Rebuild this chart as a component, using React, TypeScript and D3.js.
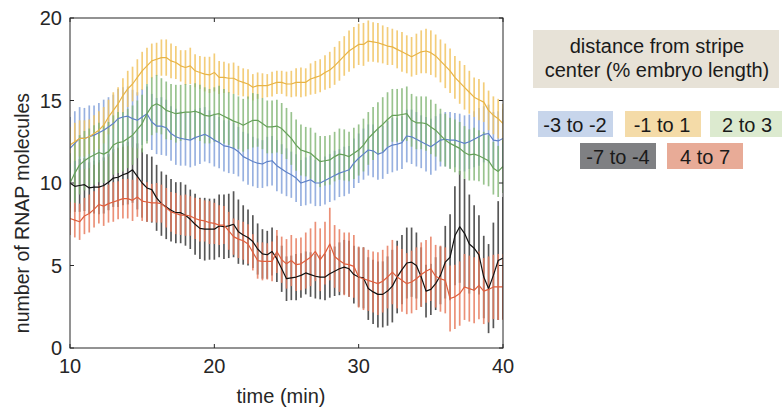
import React from "react";
import * as d3 from "d3";

// time grid: frames every 20 s from 10 to 40 min
const times: number[] = d3.range(91).map((i) => 10 + i / 3);

const seriesNames = ["-3 to -2", "-1 to 1", "2 to 3", "-7 to -4", "4 to 7"];

const meanBlue = [
  12.1, 12.4, 12.7, 12.7, 12.8, 12.9, 13.05, 13.2, 13.4, 13.6, 13.9, 14.0,
  14.05, 13.9, 13.8, 14.0, 14.2, 13.7, 13.45, 13.45, 13.35, 13.0, 12.8, 12.7,
  12.65, 12.6, 12.75, 12.85, 12.95, 12.8, 12.6, 12.45, 12.25, 12.2, 12.1, 11.9,
  11.6, 11.45, 11.3, 11.2, 11.15, 11.3, 11.35, 11.05, 10.85, 10.65, 10.5, 10.3,
  10.0, 10.1, 10.2, 10.0, 10.0, 10.15, 10.3, 10.45, 10.6, 10.7, 10.8, 11.2,
  11.5, 11.75, 12.0, 11.95, 11.75, 11.85, 12.15, 12.3, 12.35, 12.45, 12.85, 12.8,
  12.65, 12.5, 12.35, 12.2, 12.4, 12.6, 12.65, 12.6, 12.6, 12.5, 12.4, 12.5,
  12.65, 12.8, 12.95, 13.0, 12.6, 12.55, 12.7,
];
const errBlue = [
  1.9, 1.95, 1.9, 1.85, 1.9, 1.8, 1.8, 1.85, 1.8, 1.75, 1.8, 1.8,
  1.8, 1.75, 1.7, 1.7, 1.65, 1.7, 1.7, 1.75, 1.7, 1.65, 1.7, 1.65,
  1.6, 1.65, 1.7, 1.7, 1.65, 1.6, 1.6, 1.55, 1.55, 1.6, 1.55, 1.5,
  1.5, 1.55, 1.5, 1.5, 1.45, 1.5, 1.5, 1.55, 1.5, 1.45, 1.4, 1.45,
  1.4, 1.45, 1.45, 1.4, 1.4, 1.45, 1.45, 1.5, 1.45, 1.5, 1.45, 1.5,
  1.5, 1.55, 1.55, 1.6, 1.55, 1.6, 1.6, 1.65, 1.6, 1.6, 1.6, 1.65,
  1.65, 1.6, 1.65, 1.7, 1.65, 1.6, 1.65, 1.7, 1.65, 1.7, 1.7, 1.65,
  1.7, 1.75, 1.7, 1.75, 1.7, 1.8, 1.8,
];

const meanYellow = [
  12.3, 12.5, 12.7, 12.7, 12.8, 13.0, 13.2, 13.5, 14.0, 14.4, 14.8, 15.3,
  15.7, 16.0, 16.4, 16.8, 17.1, 17.4, 17.5, 17.6, 17.6, 17.4, 17.3, 17.1,
  17.0, 17.1, 16.8, 16.7, 16.6, 16.55, 16.7, 16.4, 16.4, 16.35, 16.35, 16.2,
  16.1, 16.0, 15.8, 15.9, 15.9, 15.9, 16.0, 16.1, 16.1, 16.0, 16.0, 16.1,
  16.1, 16.1, 16.3, 16.4, 16.5, 16.7, 16.85, 17.1, 17.4, 17.7, 18.0, 18.2,
  18.4, 18.4, 18.6, 18.55, 18.5, 18.4, 18.3, 18.25, 18.1, 17.95, 17.8, 17.65,
  17.8, 17.95, 18.0, 17.9, 17.7, 17.4, 17.1, 16.8, 16.4, 16.1, 15.8, 15.5,
  15.2, 15.05, 14.9, 14.4, 14.1, 13.9, 13.6,
];
const errYellow = [
  1.1, 1.15, 1.1, 1.1, 1.05, 1.1, 1.15, 1.1, 1.05, 1.1, 1.0, 1.05,
  1.1, 1.05, 1.1, 1.15, 1.1, 1.05, 1.0, 1.1, 1.1, 1.05, 1.0, 0.95,
  1.05, 1.1, 1.0, 1.0, 1.05, 1.1, 1.15, 1.0, 0.95, 0.9, 0.95, 0.9,
  0.85, 0.9, 0.8, 0.8, 0.75, 0.7, 0.75, 0.7, 0.7, 0.75, 0.8, 0.85,
  0.9, 0.85, 0.95, 1.0, 1.0, 1.05, 1.1, 1.15, 1.2, 1.2, 1.25, 1.25,
  1.25, 1.3, 1.25, 1.2, 1.2, 1.15, 1.15, 1.1, 1.15, 1.2, 1.15, 1.2,
  1.25, 1.3, 1.35, 1.35, 1.3, 1.3, 1.35, 1.35, 1.3, 1.3, 1.35, 1.3,
  1.2, 1.25, 1.2, 1.2, 1.15, 1.2, 1.2,
];

const meanGreen = [
  10.0, 10.6, 11.1, 11.35, 11.55, 11.7, 11.85, 11.75, 11.9, 12.3, 12.45, 12.5,
  12.7, 12.9, 13.25, 13.6, 14.2, 14.65, 14.8, 14.65, 14.4, 14.3, 14.2, 14.25,
  14.3, 14.3, 14.35, 14.25, 14.1, 14.05, 14.15, 14.2, 14.05, 13.9, 13.75, 13.65,
  13.5, 13.65, 13.8, 13.8, 13.6, 13.4, 13.4, 13.45, 13.3, 13.0, 12.7, 12.3,
  12.0, 11.9, 11.8, 11.55, 11.3, 11.35, 11.4, 11.6, 11.75, 11.7, 11.6, 11.8,
  12.0, 12.3, 12.7, 13.0, 13.3, 13.55, 13.85, 14.1, 14.1, 14.15, 14.2, 13.8,
  13.65, 13.65, 13.6, 13.4, 13.2, 12.9, 12.6, 12.4, 12.25, 12.1, 11.85, 11.7,
  11.75, 11.65, 11.5, 11.35, 10.9, 10.7, 11.0,
];
const errGreen = [
  1.8, 1.85, 1.8, 1.8, 1.75, 1.8, 1.8, 1.75, 1.8, 1.8, 1.85, 1.8,
  1.8, 1.8, 1.75, 1.75, 1.8, 1.75, 1.75, 1.7, 1.75, 1.7, 1.75, 1.7,
  1.7, 1.65, 1.7, 1.7, 1.7, 1.65, 1.65, 1.7, 1.65, 1.6, 1.65, 1.6,
  1.6, 1.6, 1.65, 1.6, 1.55, 1.6, 1.6, 1.6, 1.55, 1.55, 1.6, 1.55,
  1.55, 1.5, 1.55, 1.5, 1.55, 1.5, 1.5, 1.5, 1.55, 1.55, 1.5, 1.55,
  1.55, 1.6, 1.6, 1.6, 1.6, 1.65, 1.65, 1.6, 1.6, 1.6, 1.65, 1.6,
  1.6, 1.6, 1.65, 1.65, 1.6, 1.6, 1.6, 1.55, 1.6, 1.6, 1.6, 1.55,
  1.6, 1.55, 1.6, 1.55, 1.6, 1.55, 1.6,
];

const meanBlack = [
  10.0, 9.8, 9.85, 9.9, 9.7, 9.75, 9.75, 9.85, 10.05, 10.3, 10.35, 10.5,
  10.6, 10.8, 10.4, 10.0, 9.7, 9.6, 9.1, 8.75, 8.55, 8.35, 8.2, 8.2,
  8.05, 7.8, 7.5, 7.25, 7.2, 7.2, 7.2, 7.4, 7.35, 7.4, 7.5, 7.05,
  6.85, 6.7, 6.45, 6.0, 5.7, 5.65, 5.85, 5.4, 4.8, 4.2, 4.25, 4.3,
  4.4, 4.55, 4.45, 4.35, 4.3, 4.3, 4.5, 4.65, 4.8, 4.9, 4.8, 4.45,
  4.3, 4.25, 3.6, 3.4, 3.25, 3.25, 3.45, 3.75, 4.3, 4.75, 5.15, 5.2,
  5.0, 4.3, 3.45, 3.55, 3.9, 4.4, 5.2, 5.5, 6.8, 7.35, 6.95, 6.3,
  6.05, 5.65, 4.3, 3.6, 4.4, 5.3, 5.45,
];
const errBlack = [
  1.5, 1.55, 1.6, 1.6, 1.55, 1.6, 1.65, 1.7, 1.7, 1.75, 1.8, 1.85,
  1.9, 2.0, 2.0, 2.1, 2.05, 2.0, 2.0, 1.95, 1.95, 1.9, 1.85, 1.85,
  1.85, 1.8, 1.85, 1.85, 1.9, 1.85, 1.85, 1.9, 1.95, 1.95, 2.0, 1.95,
  1.8, 1.7, 1.6, 1.55, 1.5, 1.45, 1.45, 1.4, 1.4, 1.35, 1.35, 1.4,
  1.35, 1.3, 1.35, 1.35, 1.35, 1.4, 1.45, 1.5, 1.6, 1.65, 1.7, 1.75,
  1.8, 1.85, 1.9, 1.95, 2.0, 2.0, 2.1, 2.2, 2.2, 2.1, 2.15, 2.1,
  2.0, 1.8, 1.6, 1.55, 1.6, 1.75, 2.2, 2.6, 3.0, 3.4, 3.3, 3.0,
  2.6, 2.4, 2.5, 2.7, 3.2, 3.6, 3.7,
];

const meanRed = [
  7.85, 7.75, 7.65, 8.0, 8.15, 8.4, 8.7, 8.6, 8.75, 8.85, 8.95, 9.05,
  9.05, 8.95, 9.15, 8.9, 8.85, 8.8, 8.8, 8.75, 8.5, 8.25, 8.15, 8.05,
  8.05, 8.0, 7.85, 7.75, 7.7, 7.6, 7.55, 7.45, 7.45, 7.1, 6.75, 6.6,
  6.5, 6.3, 5.8, 5.3, 5.25, 5.25, 5.25, 5.85, 5.35, 5.1, 5.3, 5.05,
  5.1, 5.3, 5.5, 5.85, 5.35, 5.75, 6.3, 5.55, 5.3, 5.1, 5.05, 4.95,
  4.3, 4.2, 4.1, 4.0, 3.9, 4.05, 4.3, 4.6, 4.3, 4.1, 3.9, 4.0,
  4.2, 4.45, 4.65, 4.8, 4.35, 4.2, 4.1, 3.0, 3.1, 3.3, 3.7, 3.6,
  3.5, 3.8, 3.45, 3.55, 3.7, 3.7, 3.7,
];
const errRed = [
  1.0, 1.05, 1.1, 1.1, 1.15, 1.1, 1.15, 1.2, 1.15, 1.2, 1.15, 1.2,
  1.2, 1.25, 1.2, 1.2, 1.2, 1.15, 1.2, 1.15, 1.2, 1.2, 1.25, 1.2,
  1.25, 1.2, 1.25, 1.3, 1.25, 1.3, 1.25, 1.2, 1.15, 1.15, 1.1, 1.15,
  1.15, 1.2, 1.1, 1.1, 1.15, 1.1, 1.2, 1.3, 1.4, 1.5, 1.55, 1.6,
  1.6, 1.7, 1.75, 1.8, 1.9, 1.9, 2.2, 1.9, 1.9, 1.9, 1.95, 1.9,
  1.85, 1.9, 1.85, 1.85, 1.9, 1.9, 1.9, 1.95, 1.9, 1.9, 1.85, 1.9,
  1.9, 1.95, 1.9, 1.95, 1.9, 2.0, 2.0, 2.0, 1.95, 1.95, 2.0, 2.0,
  2.0, 2.05, 2.0, 2.0, 1.95, 2.0, 2.0,
];

const xTicks = [10, 20, 30, 40];
const yTicks = [0, 5, 10, 15, 20];

type Series = {
  name: string;
  mean: number[];
  err: number[];
  line: string;
  bar: string;
  barOpacity: number;
  legend: string;
};

const series: Series[] = [
  { name: seriesNames[3], mean: meanBlack, err: errBlack, line: "#111111", bar: "#3a3a3a", barOpacity: 0.85, legend: "#7f8083" },
  { name: seriesNames[0], mean: meanBlue, err: errBlue, line: "#5f82c8", bar: "#86a3da", barOpacity: 0.85, legend: "#c7d5eb" },
  { name: seriesNames[1], mean: meanYellow, err: errYellow, line: "#e8b446", bar: "#f1c463", barOpacity: 0.85, legend: "#f4dba8" },
  { name: seriesNames[2], mean: meanGreen, err: errGreen, line: "#66a059", bar: "#80b472", barOpacity: 0.8, legend: "#dceacf" },
  { name: seriesNames[4], mean: meanRed, err: errRed, line: "#df5f3e", bar: "#e77d5f", barOpacity: 0.85, legend: "#e8ab97" },
];

const W = 782;
const H = 410;
const PL = 70, PR = 503, PT = 18, PB = 348;
const FONT = "'Liberation Sans', Arial, Helvetica, sans-serif";
const AX = "#262626";

export default function App() {
  const x = d3.scaleLinear().domain([10, 40]).range([PL, PR]);
  const y = d3.scaleLinear().domain([0, 20]).range([PB, PT]);
  const lineGen = d3
    .line<number>()
    .x((_, i) => x(times[i]))
    .y((d) => y(d));

  const legendRow1 = [
    { s: series[1], x: 538, w: 75, cx: 575 },
    { s: series[2], x: 625, w: 76, cx: 662 },
    { s: series[3], x: 710, w: 72, cx: 747 },
  ];
  const legendRow2 = [
    { s: series[0], x: 580, w: 76, cx: 618 },
    { s: series[4], x: 667, w: 76, cx: 705 },
  ];

  return (
    <svg
      width={W}
      height={H}
      style={{ position: "absolute", left: 0, top: 0, background: "#fff" }}
      fontFamily={FONT}
    >
      <defs>
        <clipPath id="plot">
          <rect x={PL} y={PT} width={PR - PL} height={PB - PT} />
        </clipPath>
      </defs>
      <rect x={0} y={0} width={W} height={H} fill="#fff" />
      <g clipPath="url(#plot)">
        {series.map((s) => (
          <g key={"bars" + s.name} stroke={s.bar} strokeOpacity={s.barOpacity} strokeWidth={1.7}>
            {s.mean.map((m, i) => (
              <line
                key={i}
                x1={x(times[i])}
                x2={x(times[i])}
                y1={y(m - s.err[i])}
                y2={y(m + s.err[i])}
              />
            ))}
          </g>
        ))}
        {series.map((s) => (
          <path
            key={"line" + s.name}
            d={lineGen(s.mean) || ""}
            fill="none"
            stroke={s.line}
            strokeWidth={1.2}
            strokeLinejoin="round"
          />
        ))}
      </g>
      <rect x={PL} y={PT} width={PR - PL} height={PB - PT} fill="none" stroke={AX} strokeWidth={1} />
      {xTicks.map((t) => (
        <g key={"xt" + t}>
          <line x1={x(t)} x2={x(t)} y1={PB} y2={PB - 4} stroke={AX} />
          <line x1={x(t)} x2={x(t)} y1={PT} y2={PT + 4} stroke={AX} />
          <text x={x(t)} y={373} textAnchor="middle" fontSize={20} fill={AX}>
            {t}
          </text>
        </g>
      ))}
      {yTicks.map((t) => (
        <g key={"yt" + t}>
          <line x1={PL} x2={PL + 4} y1={y(t)} y2={y(t)} stroke={AX} />
          <line x1={PR} x2={PR - 4} y1={y(t)} y2={y(t)} stroke={AX} />
          <text x={62} y={y(t)} dy="0.36em" textAnchor="end" fontSize={20} fill={AX}>
            {t}
          </text>
        </g>
      ))}
      <text x={281} y={403} textAnchor="middle" fontSize={20} fill={AX}>
        time (min)
      </text>
      <text
        transform={`translate(29, ${213}) rotate(-90)`}
        textAnchor="middle"
        fontSize={19.5}
        fill={AX}
      >
        number of RNAP molecules
      </text>

      <rect x={533} y={30} width={246} height={58} fill="#e7e2d7" />
      <text x={657} y={52.5} textAnchor="middle" fontSize={20} fill="#1a1a1a">
        distance from stripe
      </text>
      <text x={657} y={76.5} textAnchor="middle" fontSize={20} fill="#1a1a1a">
        center (% embryo length)
      </text>
      {legendRow1.map((l) => (
        <g key={"l1" + l.s.name}>
          <rect x={l.x} y={111} width={l.w} height={26} fill={l.s.legend} />
          <text x={l.cx} y={131.5} textAnchor="middle" fontSize={20} fill="#1a1a1a">
            {l.s.name}
          </text>
        </g>
      ))}
      {legendRow2.map((l) => (
        <g key={"l2" + l.s.name}>
          <rect x={l.x} y={143} width={l.w} height={26} fill={l.s.legend} />
          <text x={l.cx} y={163.5} textAnchor="middle" fontSize={20} fill="#1a1a1a">
            {l.s.name}
          </text>
        </g>
      ))}
    </svg>
  );
}
